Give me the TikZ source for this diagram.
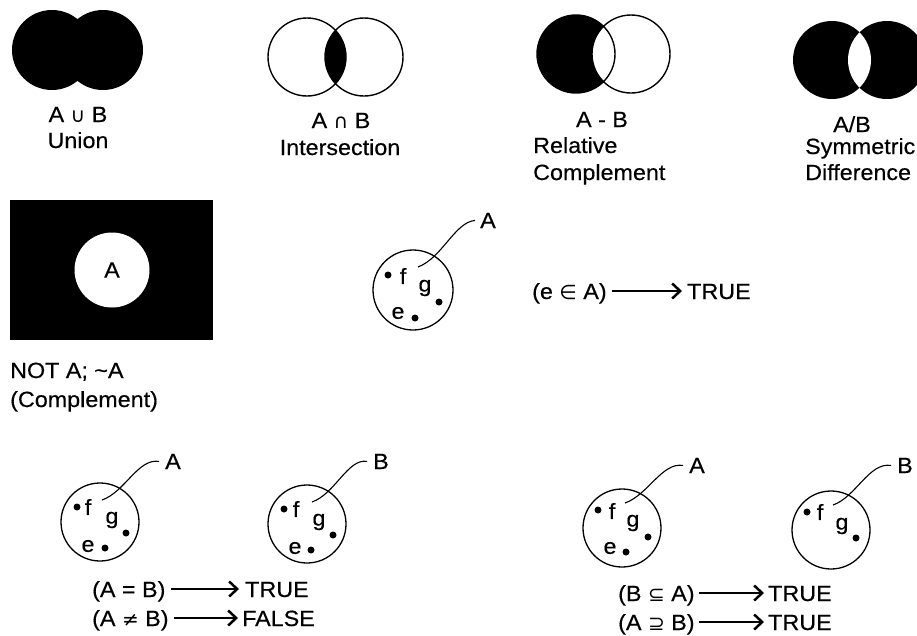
\documentclass[tikz,border=0pt]{standalone}
\usepackage{fontspec}
\setmainfont[FakeStretch=1.06,FakeBold=0.4]{Liberation Sans}
\newfontfamily\symf{DejaVu Sans}
\usetikzlibrary{arrows.meta}
\newcommand\sy[1]{{\symf\fontsize{20}{20}\selectfont #1}}
\begin{document}
\begin{tikzpicture}[x=1pt,y=-1pt,
  lbl/.style={font=\fontsize{22}{27}\selectfont, inner sep=0pt, anchor=base},
  lbll/.style={lbl, anchor=base west},
  elt/.style={lbl, anchor=center},
  setline/.style={line width=1.4pt},
  setc/.style={circle, draw, line width=1.3pt, minimum size=78pt, inner sep=0pt},
  dot/.style={circle, fill=black, inner sep=0pt, minimum size=7pt},
  leader/.style={line width=1.1pt},
  imp/.style={line width=1.4pt, -{Straight Barb[length=8pt,width=15pt,line width=2.5pt]}},
]
\useasboundingbox (0,0) rectangle (917,635);

% ---- Union
\fill (52,50) circle (40pt) (103,50) circle (40pt);
\node[lbl] (unS) at (78,122) {A \sy{∪} B};
\node[lbl] (unT) at (78,148) {Union};

% ---- Intersection
\begin{scope}
  \clip (307,57) circle (39pt);
  \fill (364,57) circle (39pt);
\end{scope}
\draw[setline] (307,57) circle (39pt) (364,57) circle (39pt);
\node[lbl] (inS) at (341,128) {A \sy{∩} B};
\node[lbl] (inT) at (340,155) {Intersection};

% ---- Relative complement
\fill (576,54) circle (39pt);
\begin{scope}
  \clip (576,54) circle (39pt);
  \fill[white] (631,54) circle (39pt);
\end{scope}
\draw[setline] (576,54) circle (39pt) (631,54) circle (39pt);
\node[lbl] (rcS) at (602,127) {A - B};
\node[lbll] (rcT1) at (533,153) {Relative};
\node[lbll] (rcT2) at (533,180) {Complement};

% ---- Symmetric difference
\fill (832,60) circle (39pt) (887,60) circle (39pt);
\begin{scope}
  \clip (832,60) circle (39pt);
  \fill[white] (887,60) circle (39pt);
\end{scope}
\node[lbl] (sdS) at (852,132) {A/B};
\node[lbll] (sdT1) at (805,154) {Symmetric};
\node[lbll] (sdT2) at (805,180) {Difference};

% ---- Complement
\fill (10,200) rectangle (213,340);
\node[circle, fill=white, minimum size=75pt, inner sep=0pt, font=\fontsize{22}{27}\selectfont] (cA) at (112,270) {A};
\node[lbll] (cT1) at (10,378) {NOT A; \textasciitilde A};
\node[lbll] (cT2) at (10,407) {(Complement)};

% ---- Membership
\node[setc, minimum size=80pt] (m) at (413,290) {};
\node[dot] (mfd) at (388,275) {};
\node[elt] (mf) at (403,276) {f};
\node[elt] (mg) at (425,288) {g};
\node[dot] (mgd) at (439,302) {};
\node[elt] (me) at (398,313) {e};
\node[dot] (med) at (415,318) {};
\node[lbl] (mA) at (488,228) {A};
\coordinate (ml) at (418,267);
\draw[leader] (ml) .. controls (442,258) and (455,222) .. ([xshift=-5pt]mA.west);
\node[lbll] (mE) at (532,299) {(e \sy{∈} A)};
\node[lbll] (mT) at (687,299) {TRUE};
\draw[imp] ([shift={(5pt,8pt)}]mE.base east) -- ([shift={(-5pt,8pt)}]mT.base west);

% ---- Equality: set A
\node[setc] (a1) at (100,522) {};
\node[dot] (a1fd) at (77,507) {};
\node[elt] (a1f) at (88,507) {f};
\node[elt] (a1g) at (112,520) {g};
\node[dot] (a1gd) at (126,533) {};
\node[elt] (a1e) at (88,546) {e};
\node[dot] (a1ed) at (105,548) {};
\node[lbl] (a1A) at (173,469) {A};
\coordinate (a1l) at (102,500);
\draw[leader] (a1l) .. controls (125,492) and (138,458) .. ([xshift=-6pt]a1A.west);

% ---- Equality: set B
\node[setc] (b1) at (307,524) {};
\node[dot] (b1fd) at (284,509) {};
\node[elt] (b1f) at (296,509) {f};
\node[elt] (b1g) at (319,522) {g};
\node[dot] (b1gd) at (333,535) {};
\node[elt] (b1e) at (295,548) {e};
\node[dot] (b1ed) at (311,550) {};
\node[lbl] (b1B) at (381,469) {B};
\coordinate (b1l) at (312,502);
\draw[leader] (b1l) .. controls (335,494) and (348,458) .. ([xshift=-6pt]b1B.west);

\node[lbll] (eq) at (92,597) {(A = B)};
\node[lbll] (eqT) at (245,597) {TRUE};
\draw[imp] ([shift={(5pt,8pt)}]eq.base east) -- ([shift={(-6pt,8pt)}]eqT.base west);
\node[lbll] (ne) at (92,626) {(A \sy{≠} B)};
\node[lbll] (neT) at (242,626) {FALSE};
\draw[imp] ([shift={(5pt,8pt)}]ne.base east) -- ([shift={(-4pt,8pt)}]neT.base west);

% ---- Subset: set A
\node[setc] (a2) at (622,528) {};
\node[dot] (a2fd) at (598,510) {};
\node[elt] (a2f) at (612,511) {f};
\node[elt] (a2g) at (633,523) {g};
\node[dot] (a2gd) at (648,537) {};
\node[elt] (a2e) at (610,548) {e};
\node[dot] (a2ed) at (626,552) {};
\node[lbl] (a2A) at (697,473) {A};
\coordinate (a2l) at (625,503);
\draw[leader] (a2l) .. controls (648,495) and (662,462) .. ([xshift=-6pt]a2A.west);

% ---- Subset: set B
\node[setc] (b2) at (831,530) {};
\node[dot] (b2fd) at (807,512) {};
\node[elt] (b2f) at (820,512) {f};
\node[elt] (b2g) at (842,526) {g};
\node[dot] (b2gd) at (856,538) {};
\node[lbl] (b2B) at (905,473) {B};
\coordinate (b2l) at (833,505);
\draw[leader] (b2l) .. controls (856,497) and (869,462) .. ([xshift=-6pt]b2B.west);

\node[lbll] (sb) at (618,601) {(B \sy{⊆} A)};
\node[lbll] (sbT) at (768,601) {TRUE};
\draw[imp] ([shift={(4pt,8pt)}]sb.base east) -- ([shift={(-4pt,8pt)}]sbT.base west);
\node[lbll] (sp) at (618,630) {(A \sy{⊇} B)};
\node[lbll] (spT) at (768,630) {TRUE};
\draw[imp] ([shift={(4pt,8pt)}]sp.base east) -- ([shift={(-4pt,8pt)}]spT.base west);
\end{tikzpicture}
\end{document}
